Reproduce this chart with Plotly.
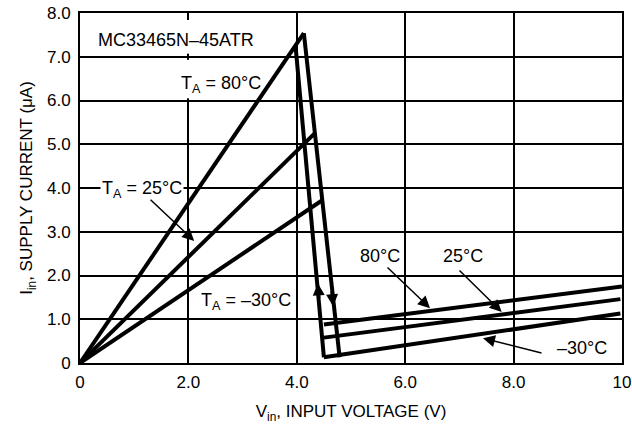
import plotly.graph_objects as go

# ---- data ----
rise_80_x = [0, 4.13]
rise_80_y = [0, 7.54]
rise_25_x = [0, 4.33]
rise_25_y = [0, 5.25]
rise_m30_x = [0, 4.47]
rise_m30_y = [0, 3.72]

fall_edge_x = [4.13, 4.79]
fall_edge_y = [7.54, 0.13]
rise_edge_x = [3.98, 4.50]
rise_edge_y = [7.20, 0.13]

low_80_x = [4.50, 10.0]
low_80_y = [0.88, 1.75]
low_25_x = [4.50, 9.97]
low_25_y = [0.58, 1.46]
low_m30_x = [4.50, 9.97]
low_m30_y = [0.13, 1.13]

x_tickvals = [0, 2, 4, 6, 8, 10]
x_ticktext = ["0", "2.0", "4.0", "6.0", "8.0", "10"]
y_tickvals = [0, 1, 2, 3, 4, 5, 6, 7, 8]
y_ticktext = ["0", "1.0", "2.0", "3.0", "4.0", "5.0", "6.0", "7.0", "8.0"]

FONT = "Liberation Sans, Arial, Helvetica, sans-serif"
LW = 4

fig = go.Figure()
for xs, ys in [(rise_80_x, rise_80_y), (rise_25_x, rise_25_y), (rise_m30_x, rise_m30_y),
               (fall_edge_x, fall_edge_y), (rise_edge_x, rise_edge_y),
               (low_80_x, low_80_y), (low_25_x, low_25_y), (low_m30_x, low_m30_y)]:
    fig.add_trace(go.Scatter(x=xs, y=ys, mode="lines",
                             line=dict(color="black", width=LW),
                             showlegend=False, hoverinfo="skip"))

# text labels
labels = [
    ("MC33465N\u201345ATR", 1.78, 7.39, False),
    ("T<sub>A</sub> = 80\u00b0C", 2.61, 6.36, False),
    ("T<sub>A</sub> = 25\u00b0C", 1.14, 3.96, True),
    ("T<sub>A</sub> = \u201330\u00b0C", 3.06, 1.40, False),
    ("80\u00b0C", 5.53, 2.44, False),
    ("25\u00b0C", 7.06, 2.44, False),
    ("\u201330\u00b0C", 9.26, 0.34, False),
]
for txt, x, y, bg in labels:
    fig.add_annotation(x=x, y=y, text=txt, showarrow=False,
                       font=dict(family=FONT, size=18, color="black"),
                       bgcolor="white" if bg else None,
                       xanchor="center", yanchor="middle")

# pointer arrows (tip, tail)
arrows = [
    (2.107, 2.79, 1.274, 3.765),
    (6.458, 1.253, 5.646, 2.214),
    (7.78, 1.168, 6.974, 2.146),
    (7.435, 0.566, 8.542, 0.222),
]
for x, y, ax, ay in arrows:
    fig.add_annotation(x=x, y=y, ax=ax, ay=ay, xref="x", yref="y",
                       axref="x", ayref="y", text="", showarrow=True,
                       arrowhead=2, arrowsize=1.6, arrowwidth=1.5,
                       arrowcolor="black")

# direction arrows on the hysteresis edges
fig.add_annotation(x=4.39, y=1.82, ax=4.41, ay=1.45, xref="x", yref="y",
                   axref="x", ayref="y", text="", showarrow=True,
                   arrowhead=2, arrowsize=0.8, arrowwidth=3, arrowcolor="black")
fig.add_annotation(x=4.67, y=1.30, ax=4.645, ay=1.67, xref="x", yref="y",
                   axref="x", ayref="y", text="", showarrow=True,
                   arrowhead=2, arrowsize=0.8, arrowwidth=3, arrowcolor="black")

# gaps in the 2.0 grid line behind the upper-left labels
for y0, y1 in [(6.05, 6.93), (7.07, 7.84)]:
    fig.add_shape(type="rect", x0=1.96, x1=2.04, y0=y0, y1=y1,
                  fillcolor="white", line=dict(width=0), layer="between")

axis_common = dict(showline=True, mirror=True, linecolor="black", linewidth=2,
                   showgrid=True, gridcolor="black", gridwidth=2,
                   zeroline=False, ticks="", automargin=False,
                   ticklabeloverflow="allow",
                   tickfont=dict(family=FONT, size=17, color="black"))

fig.update_xaxes(range=[0, 10], tickvals=x_tickvals, ticktext=x_ticktext,
                 ticklabelstandoff=3,
                 title=dict(text="V<sub>in</sub>, INPUT VOLTAGE (V)",
                            font=dict(family=FONT, size=17, color="black"),
                            standoff=14),
                 **axis_common)
fig.update_yaxes(range=[0, 8], tickvals=y_tickvals, ticktext=y_ticktext,
                 ticklabelstandoff=4,
                 title=dict(text="I<sub>in</sub>, SUPPLY CURRENT (\u03bcA)",
                            font=dict(family=FONT, size=17, color="black"),
                            standoff=10),
                 **axis_common)

fig.update_layout(width=632, height=434,
                  margin=dict(l=80, r=10, t=13, b=71),
                  plot_bgcolor="white", paper_bgcolor="white",
                  font=dict(family=FONT, size=17, color="black"))

fig.write_html("out.html", config={"displayModeBar": False},
               post_script="document.body.style.margin='0';document.body.style.overflow='hidden';")
